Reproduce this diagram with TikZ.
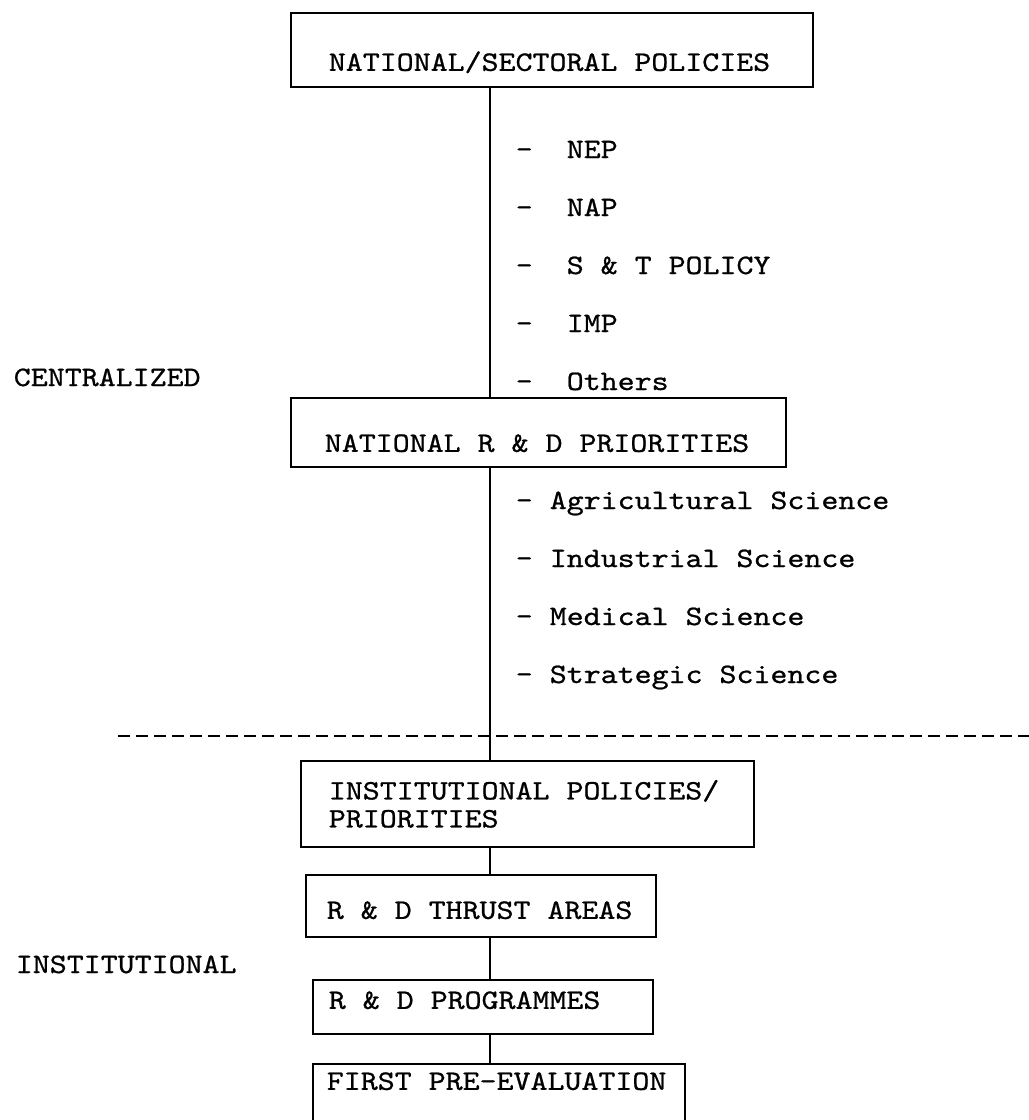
\documentclass[tikz,border=0pt]{standalone}
\usepackage{fontspec}
\newfontfamily\ketik[FakeStretch=1.15, FakeBold=0.8]{lmmono10-regular.otf}
\begin{document}
\begin{tikzpicture}[line width=1.2pt, font=\ketik\fontsize{20}{19.9}\selectfont,
    kotak/.style={draw, anchor=north west, inner ysep=0pt},
    butir/.style={anchor=base west, inner sep=0pt}]

        \useasboundingbox (0,0) rectangle (25.725,-28);
        \clip (0,0) rectangle (25.725,-28);

        % 1. Blocks
        \node[kotak, inner xsep=0.95cm, text height=1.45cm, text depth=0.4cm] (natpol) at (7.25,-0.3)
            {\makebox[11.15cm][l]{NATIONAL/SECTORAL POLICIES}};
        \node[kotak, inner xsep=0.85cm, text height=1.35cm, text depth=0.375cm] (natrd) at (7.25,-9.925)
            {\makebox[10.675cm][l]{NATIONAL R \& D PRIORITIES}};
        \node[kotak, inner xsep=0.7cm, minimum height=2.15cm] (instpol) at (7.5,-19)
            {\vbox{\hbox to 9.925cm{INSTITUTIONAL POLICIES/\hfil}\hbox to 9.925cm{PRIORITIES\hfil}}};
        \node[kotak, inner xsep=0.525cm, text height=1.1cm, text depth=0.45cm] (thrust) at (7.625,-21.85)
            {\makebox[7.7cm][l]{R \& D THRUST AREAS}};
        \node[kotak, inner xsep=0.4cm, text height=0.725cm, text depth=0.625cm] (progs) at (7.8,-24.475)
            {\makebox[7.7cm][l]{R \& D PROGRAMMES}};
        \node[kotak, inner xsep=0.35cm, text height=0.65cm, text depth=2cm] (preeval) at (7.8,-26.575)
            {\makebox[8.6cm][l]{FIRST PRE-EVALUATION}};

        % 2. Policies under the first block
        \node[butir] (nep) at (12.875,-3.95) {-~~NEP};
        \node[butir] (nap) at (12.875,-5.4) {-~~NAP};
        \node[butir] (stp) at (12.875,-6.85) {-~~S \& T POLICY};
        \node[butir] (imp) at (12.875,-8.3) {-~~IMP};
        \node[butir] (oth) at (12.875,-9.75) {-~~Others};

        % 3. Sciences under the second block
        \node[butir] (agri) at (12.875,-12.725) {- Agricultural Science};
        \node[butir] (indu) at (12.875,-14.175) {- Industrial Science};
        \node[butir] (medi) at (12.875,-15.625) {- Medical Science};
        \node[butir] (stra) at (12.875,-17.075) {- Strategic Science};

        % 4. Level labels on the left
        \node[butir] (lbcent) at (0.325,-9.65) {CENTRALIZED};
        \node[butir] (lbinst) at (0.375,-24.325) {INSTITUTIONAL};

        % 5. Dashed border between the levels
        \coordinate (cutL) at (2.95,-18.4);
        \coordinate (cutR) at (25.725,-18.4);
        \draw[line width=0.8pt, dash pattern=on 0.3cm off 0.15cm] (cutL) -- (cutR);

        % 6. Vertical links
        \coordinate (spine) at (12.25,0);
        \draw[line width=1.5pt] (natpol.south -| spine) -- (natrd.north -| spine);
        \draw[line width=1.5pt] (natrd.south -| spine) -- (instpol.north -| spine);
        \draw[line width=1.5pt] (instpol.south -| spine) -- (thrust.north -| spine);
        \draw[line width=1.5pt] (thrust.south -| spine) -- (progs.north -| spine);
        \draw[line width=1.5pt] (progs.south -| spine) -- (preeval.north -| spine);

    \end{tikzpicture}
\end{document}
